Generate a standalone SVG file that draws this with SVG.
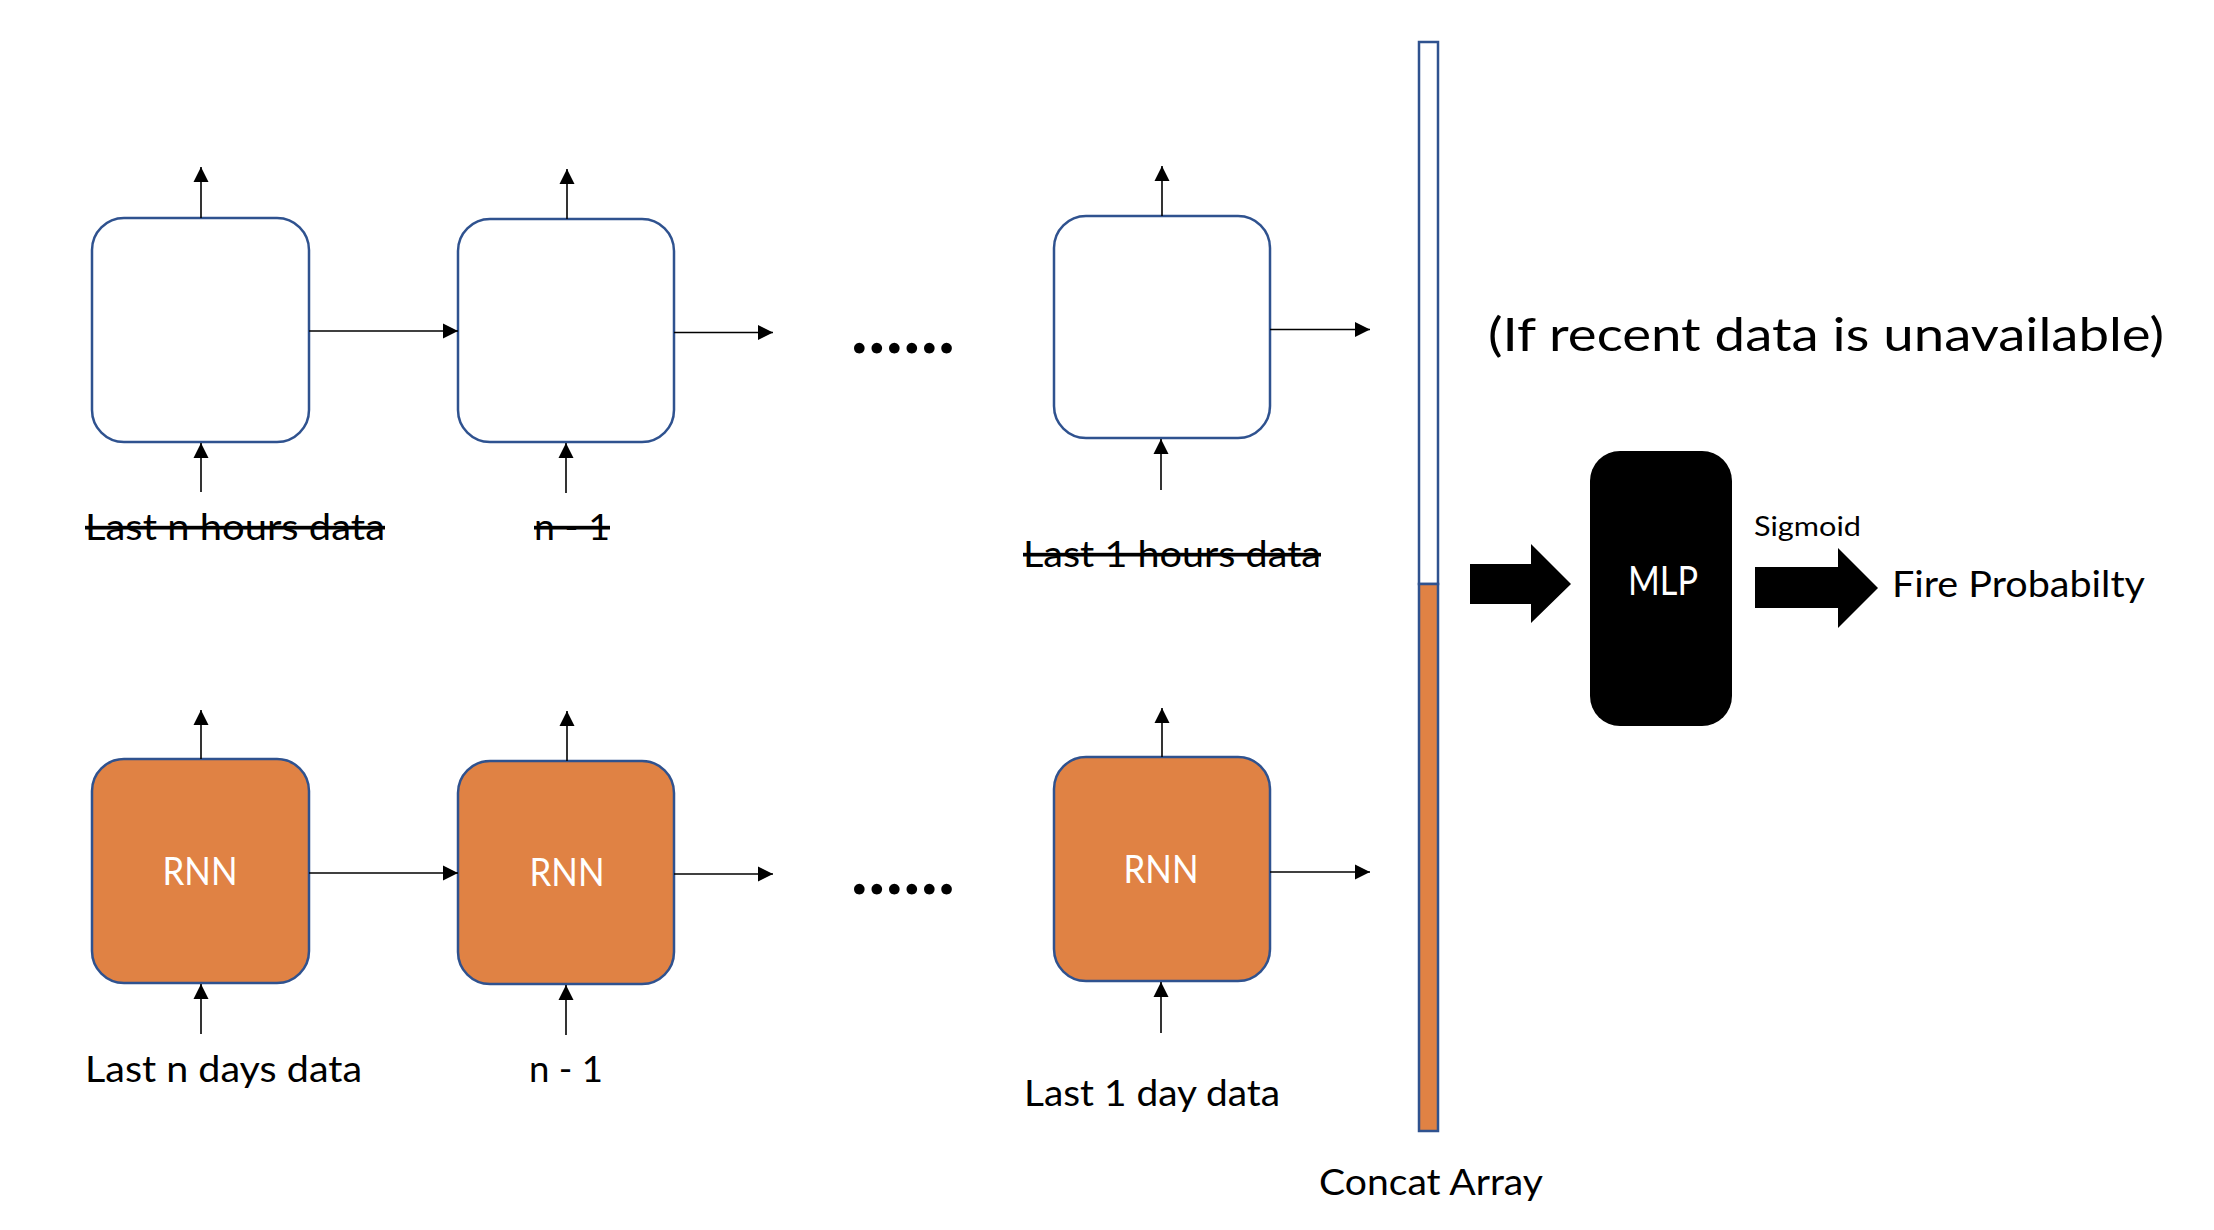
<svg xmlns="http://www.w3.org/2000/svg" width="2214" height="1230" viewBox="0 0 2214 1230">
<style>
  .cell { fill: #ffffff; stroke: #2F528F; stroke-width: 2.5; }
  .rnn { fill: #E08244; stroke: #2F528F; stroke-width: 2.5; }
  .lbl { font-family: Lato, "Liberation Sans", sans-serif; font-size: 37px; fill: #000000; }
  .strike { text-decoration: line-through; }
  .in { font-family: Lato, "Liberation Sans", sans-serif; font-size: 38px; fill: #ffffff; text-anchor: middle; }
  .dots { font-family: Lato, "Liberation Sans", sans-serif; font-size: 70px; font-weight: bold; fill: #000000; }
  .conn line { stroke: #000000; stroke-width: 1.6; marker-end: url(#ah); }
  .fat { fill: #000000; }
</style>
<defs>
  <marker id="ah" markerUnits="userSpaceOnUse" markerWidth="16" markerHeight="16" viewBox="0 0 16 16" refX="15" refY="8" orient="auto">
    <path d="M0,0.5 L15,8 L0,15.5 Z" fill="#000000"/>
  </marker>
</defs>
<rect width="2214" height="1230" fill="#ffffff"/>

<g id="hour-cell-n">
  <rect class="cell" x="92" y="218" width="217" height="224" rx="32" ry="32"/>
  <text class="lbl strike" x="85" y="540" textLength="300" lengthAdjust="spacingAndGlyphs">Last n hours data</text>
</g>
<g id="hour-cell-n-1">
  <rect class="cell" x="458" y="219" width="216" height="223" rx="32" ry="32"/>
  <text class="lbl strike" x="534" y="540" textLength="76" lengthAdjust="spacingAndGlyphs">n - 1</text>
</g>
<g id="hour-dots">
  <text class="dots" x="851" y="353" textLength="104" lengthAdjust="spacing">......</text>
</g>
<g id="hour-cell-1">
  <rect class="cell" x="1054" y="216" width="216" height="222" rx="32" ry="32"/>
  <text class="lbl strike" x="1023" y="567" textLength="298" lengthAdjust="spacingAndGlyphs">Last 1 hours data</text>
</g>

<g id="day-cell-n">
  <rect class="rnn" x="92" y="759" width="217" height="224" rx="32" ry="32"/>
  <text class="in" x="200" y="885" textLength="75" lengthAdjust="spacingAndGlyphs">RNN</text>
  <text class="lbl" x="85" y="1082" textLength="277" lengthAdjust="spacingAndGlyphs">Last n days data</text>
</g>
<g id="day-cell-n-1">
  <rect class="rnn" x="458" y="761" width="216" height="223" rx="32" ry="32"/>
  <text class="in" x="567" y="886" textLength="75" lengthAdjust="spacingAndGlyphs">RNN</text>
  <text class="lbl" x="529" y="1082" textLength="74" lengthAdjust="spacingAndGlyphs">n - 1</text>
</g>
<g id="day-dots">
  <text class="dots" x="851" y="894" textLength="104" lengthAdjust="spacing">......</text>
</g>
<g id="day-cell-1">
  <rect class="rnn" x="1054" y="757" width="216" height="224" rx="32" ry="32"/>
  <text class="in" x="1161" y="883" textLength="75" lengthAdjust="spacingAndGlyphs">RNN</text>
  <text class="lbl" x="1024" y="1106" textLength="256" lengthAdjust="spacingAndGlyphs">Last 1 day data</text>
</g>

<g id="concat-array">
  <rect x="1419" y="42" width="19" height="542" fill="#ffffff" stroke="#2F528F" stroke-width="2.5"/>
  <rect x="1419" y="584" width="19" height="547" fill="#E08244" stroke="#2F528F" stroke-width="2.5"/>
  <text class="lbl" x="1319" y="1195" textLength="224" lengthAdjust="spacingAndGlyphs">Concat Array</text>
</g>

<g id="note">
  <text class="lbl" x="1488" y="351" style="font-size:46px" textLength="676" lengthAdjust="spacingAndGlyphs">(If recent data is unavailable)</text>
</g>

<g id="mlp">
  <rect x="1590" y="451" width="142" height="275" rx="30" ry="30" fill="#000000"/>
  <text x="1663" y="595" font-family="Lato, 'Liberation Sans', sans-serif" font-size="40" fill="#ffffff" text-anchor="middle" textLength="70" lengthAdjust="spacingAndGlyphs">MLP</text>
</g>

<g id="output">
  <text class="lbl" x="1892" y="597" textLength="253" lengthAdjust="spacingAndGlyphs">Fire Probabilty</text>
</g>

<g id="connectors">
  <g class="conn">
    <line x1="201" y1="218" x2="201" y2="167"/>
    <line x1="567" y1="219" x2="567" y2="169"/>
    <line x1="1162" y1="216" x2="1162" y2="166"/>
    <line x1="201" y1="492" x2="201" y2="443"/>
    <line x1="566" y1="493" x2="566" y2="443"/>
    <line x1="1161" y1="490" x2="1161" y2="439"/>
    <line x1="309" y1="331" x2="458" y2="331"/>
    <line x1="674" y1="332.5" x2="773" y2="332.5"/>
    <line x1="1270" y1="329.5" x2="1370" y2="329.5"/>

    <line x1="201" y1="759" x2="201" y2="710"/>
    <line x1="567" y1="761" x2="567" y2="711"/>
    <line x1="1162" y1="757" x2="1162" y2="708"/>
    <line x1="201" y1="1034" x2="201" y2="984"/>
    <line x1="566" y1="1035" x2="566" y2="985"/>
    <line x1="1161" y1="1033" x2="1161" y2="982"/>
    <line x1="309" y1="873" x2="458" y2="873"/>
    <line x1="674" y1="874" x2="773" y2="874"/>
    <line x1="1270" y1="872" x2="1370" y2="872"/>
  </g>
  <polygon class="fat" points="1470,564 1531,564 1531,544 1571,584 1531,623 1531,604 1470,604"/>
  <polygon class="fat" points="1755,567 1838,567 1838,548 1878,588 1838,628 1838,608 1755,608"/>
  <text class="lbl" x="1754" y="536" style="font-size:27px" textLength="107" lengthAdjust="spacingAndGlyphs">Sigmoid</text>
</g>
</svg>
